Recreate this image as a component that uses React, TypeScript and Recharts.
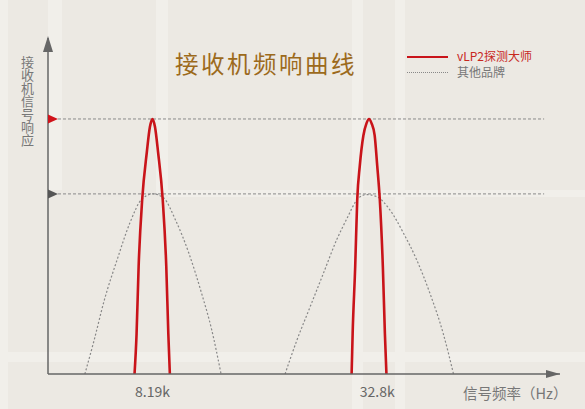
import React from 'react';
import { ComposedChart, Line, XAxis, YAxis, ReferenceLine, ReferenceDot } from 'recharts';

// 信号响应曲线（读图估值）
const vlp2PeakLow = [
  { x: 16.9, y: 0 }, { x: 17.3, y: 12 }, { x: 17.7, y: 32 }, { x: 18.4, y: 52 },
  { x: 19.3, y: 66 }, { x: 19.9, y: 73.5 }, { x: 20.4, y: 75.9 }, { x: 20.9, y: 73.5 },
  { x: 21.5, y: 66 }, { x: 22.4, y: 52 }, { x: 23.1, y: 32 }, { x: 23.5, y: 12 },
  { x: 23.8, y: 0 },
];
const vlp2PeakHigh = [
  { x: 59.3, y: 0 }, { x: 59.5, y: 12 }, { x: 60.0, y: 32 }, { x: 60.4, y: 52 },
  { x: 60.9, y: 62 }, { x: 61.6, y: 71 }, { x: 62.2, y: 74.6 }, { x: 62.7, y: 75.9 },
  { x: 63.2, y: 74.6 }, { x: 63.8, y: 71 }, { x: 64.3, y: 62 }, { x: 64.8, y: 52 },
  { x: 65.4, y: 32 }, { x: 65.8, y: 12 }, { x: 66.1, y: 0 },
];
const otherPeakLow = [
  { x: 7.2, y: 0 }, { x: 9.0, y: 10 }, { x: 11.0, y: 22 }, { x: 13.5, y: 34 },
  { x: 16.0, y: 45 }, { x: 18.3, y: 52 }, { x: 20.5, y: 53.6 }, { x: 22.5, y: 52.5 },
  { x: 25.0, y: 45.5 }, { x: 27.5, y: 36 }, { x: 30.0, y: 24 }, { x: 32.0, y: 13 },
  { x: 33.8, y: 0 },
];
const otherPeakHigh = [
  { x: 46.3, y: 0 }, { x: 48.6, y: 10 }, { x: 51.2, y: 20 }, { x: 53.8, y: 30 },
  { x: 56.4, y: 40 }, { x: 58.3, y: 46 }, { x: 60.6, y: 52.3 }, { x: 62.2, y: 53.4 },
  { x: 64.2, y: 52.8 }, { x: 66.8, y: 48.8 }, { x: 69.4, y: 42 }, { x: 72.0, y: 34 },
  { x: 74.6, y: 24 }, { x: 77.2, y: 12 }, { x: 79.2, y: 0 },
];

const tickValues = [20.4, 64.3];
const tickLabels = ['8.19k', '32.8k'];
const levelVlp2 = 75.9;
const levelOther = 53.6;
const levelLineEnd = 96.9;

const W = 585;
const H = 409;
const FONT = '"Noto Sans CJK SC", "Noto Sans", sans-serif';

const RightArrow = ({ cx, cy, fill, len = 10, half = 4.5 }: any) => (
  <path d={`M${cx},${cy - half} L${cx + len},${cy} L${cx},${cy + half} Z`} fill={fill} />
);
const EndArrow = ({ cx, cy }: any) => (
  <path d={`M${cx - 14},${cy - 4} L${cx},${cy} L${cx - 14},${cy + 4} Z`} fill="#666" />
);
const UpArrow = ({ cx, cy }: any) => (
  <path d={`M${cx - 5},${cy + 14} L${cx},${cy - 2} L${cx + 5},${cy + 14} Z`} fill="#666" />
);

// 背景里浅色的"道路"条纹，纯装饰
const bands = [
  { left: 0, top: 0, width: 8, height: H },
  { left: 48, top: 0, width: 14, height: 190 },
  { left: 156, top: 0, width: 12, height: 195 },
  { left: 168, top: 190, width: 417, height: 7 },
  { left: 352, top: 0, width: 11, height: 409 },
  { left: 395, top: 0, width: 10, height: 409 },
  { left: 0, top: 352, width: 585, height: 10 },
];

export default function App() {
  return (
    <div
      style={{
        position: 'fixed',
        left: 0,
        top: 0,
        width: W,
        height: H,
        background: '#ece9e3',
        overflow: 'hidden',
        fontFamily: FONT,
      }}
    >
      {bands.map((b, i) => (
        <div key={i} style={{ position: 'absolute', ...b, background: '#f1efea' }} />
      ))}

      <div style={{ position: 'absolute', left: 0, top: 0 }}>
        <ComposedChart width={W} height={H} margin={{ top: 38, right: 25, bottom: 0, left: 48 }}>
          <XAxis
            type="number"
            dataKey="x"
            domain={[0, 100]}
            ticks={tickValues}
            tickFormatter={(v: number) => tickLabels[tickValues.indexOf(v)] ?? ''}
            tickLine={false}
            tickSize={0}
            tickMargin={13}
            height={35}
            axisLine={{ stroke: '#666', strokeWidth: 1.5 }}
            tick={{ fill: '#666', fontSize: 14, fontFamily: FONT }}
            allowDataOverflow
          />
          <YAxis type="number" dataKey="y" domain={[0, 100]} hide allowDataOverflow />

          <ReferenceLine
            segment={[{ x: 0, y: levelVlp2 }, { x: levelLineEnd, y: levelVlp2 }]}
            stroke="#8a8a8a"
            strokeDasharray="3 2"
          />
          <ReferenceLine
            segment={[{ x: 0, y: levelOther }, { x: levelLineEnd, y: levelOther }]}
            stroke="#8a8a8a"
            strokeDasharray="3 2"
          />
          <ReferenceLine x={0} stroke="#666" strokeWidth={1.5} />

          <Line data={otherPeakLow} dataKey="y" type="monotone" stroke="#888" strokeWidth={1.2}
            strokeDasharray="2 2" dot={false} activeDot={false} isAnimationActive={false} />
          <Line data={otherPeakHigh} dataKey="y" type="monotone" stroke="#888" strokeWidth={1.2}
            strokeDasharray="2 2" dot={false} activeDot={false} isAnimationActive={false} />
          <Line data={vlp2PeakLow} dataKey="y" type="monotone" stroke="#c9141a" strokeWidth={2.6}
            dot={false} activeDot={false} isAnimationActive={false} />
          <Line data={vlp2PeakHigh} dataKey="y" type="monotone" stroke="#c9141a" strokeWidth={2.6}
            dot={false} activeDot={false} isAnimationActive={false} />

          <ReferenceDot x={0} y={levelVlp2} r={0} shape={(p: any) => <RightArrow {...p} fill="#d0121a" />} />
          <ReferenceDot x={0} y={levelOther} r={0} shape={(p: any) => <RightArrow {...p} fill="#555" />} />
          <ReferenceDot x={100} y={0} r={0} shape={(p: any) => <EndArrow {...p} />} />
          <ReferenceDot x={0} y={100} r={0} shape={(p: any) => <UpArrow {...p} />} />
        </ComposedChart>
      </div>

      <div
        style={{
          position: 'absolute',
          left: 175,
          top: 47,
          fontSize: 23.5,
          letterSpacing: 2.5,
          color: '#9c6a1c',
          lineHeight: '32px',
          whiteSpace: 'nowrap',
        }}
      >
        接收机频响曲线
      </div>

      <div
        style={{
          position: 'absolute',
          left: 19,
          top: 56,
          fontSize: 13,
          lineHeight: '16px',
          color: '#777',
          writingMode: 'vertical-rl',
          whiteSpace: 'nowrap',
        }}
      >
        接收机信号响应
      </div>

      <div style={{ position: 'absolute', left: 407, top: 56, width: 41, height: 2, background: '#c9141a' }} />
      <div style={{ position: 'absolute', left: 457, top: 48, fontSize: 12, lineHeight: '16px', color: '#c8281e', whiteSpace: 'nowrap' }}>
        vLP2探测大师
      </div>
      <div style={{ position: 'absolute', left: 407, top: 72, width: 41, height: 0, borderTop: '1px dotted #888' }} />
      <div style={{ position: 'absolute', left: 457, top: 64, fontSize: 12, lineHeight: '16px', color: '#777', whiteSpace: 'nowrap' }}>
        其他品牌
      </div>

      <div style={{ position: 'absolute', left: 463, top: 383, fontSize: 14.5, lineHeight: '20px', color: '#777', whiteSpace: 'nowrap' }}>
        信号频率（Hz）
      </div>
    </div>
  );
}
